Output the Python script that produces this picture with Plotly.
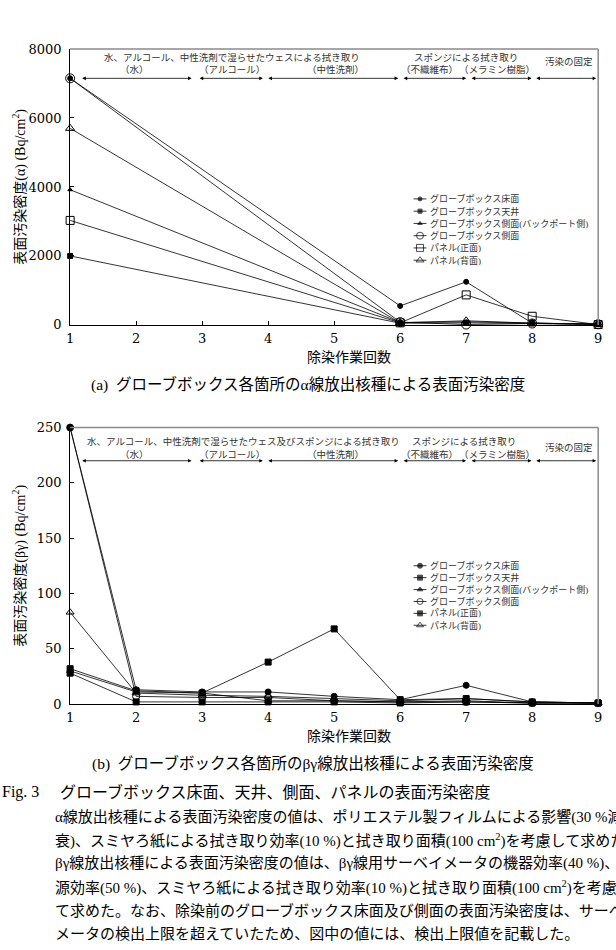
import plotly.graph_objects as go

W, H = 616, 950
SERIF = "Liberation Serif, Noto Sans CJK JP, serif"
TICKSERIF = "DejaVu Serif, Liberation Serif, serif"

# ---------------- data ----------------
series_names = [
    "グローブボックス床面",
    "グローブボックス天井",
    "グローブボックス側面(バックポート側)",
    "グローブボックス側面",
    "パネル(正面)",
    "パネル(背面)",
]

# (a) alpha
alpha_x = [1, 6, 7, 8, 9]
alpha_floor = [7150, 550, 1250, 50, 20]
alpha_ceiling = [2000, 50, 60, 40, 20]
alpha_side_bp = [3920, 70, 90, 60, 20]
alpha_side = [7150, 80, 10, 40, 20]
alpha_panel_front = [3030, 60, 870, 250, 10]
alpha_panel_back = [5700, 60, 120, 50, 20]

# (b) beta-gamma
bg_x = [1, 2, 3, 4, 5, 6, 7, 8, 9]
bg_floor = [250, 13, 11, 11, 7, 4, 17, 2, 1]
bg_ceiling = [32, 12, 10, 38, 68, 4, 5, 2, 1]
bg_side_bp = [30, 11, 10, 3, 3, 2, 3, 1, 1]
bg_side = [250, 7, 6, 6, 3, 2, 2, 1, 1]
bg_panel_front = [28, 2, 2, 2, 2, 1, 2, 1, 1]
bg_panel_back = [83, 10, 8, 7, 5, 3, 5, 2, 1]

x_ticks = [1, 2, 3, 4, 5, 6, 7, 8, 9]

# process labels
top_row1_a = [("水、アルコール、中性洗剤で湿らせたウェスによる拭き取り", 3.45),
              ("スポンジによる拭き取り", 6.99)]
top_row1_b = [("水、アルコール、中性洗剤で湿らせたウェス及びスポンジによる拭き取り", 3.62),
              ("スポンジによる拭き取り", 6.97)]
row2_labels = [("（水）", 1.97), ("（アルコール）", 3.45), ("（中性洗剤）", 5.02),
               ("（不織維布）", 6.44), ("（メラミン樹脂）", 7.46)]
fix_label = ("汚染の固定", 8.56)
arrow_spans = [(1.16, 2.84), (2.94, 3.92), (3.98, 5.97), (6.03, 7.0), (7.06, 7.99), (8.04, 8.97)]

alpha_series = [alpha_floor, alpha_ceiling, alpha_side_bp, alpha_side, alpha_panel_front, alpha_panel_back]
bg_series = [bg_floor, bg_ceiling, bg_side_bp, bg_side, bg_panel_front, bg_panel_back]

# ---------------- styles ----------------
sym_a = ["circle", "square", "triangle-up", "circle-open", "square-open", "triangle-up-open"]
size_a = [5, 5, 4, 9, 8, 8]
sym_b = ["circle", "square", "triangle-up", "circle-open", "square", "triangle-up-open"]
size_b = [6, 6, 6, 7, 6, 7]

L, R = 67, 602
T1, B1 = 42.7, 323
T2, B2 = 427.3, 708.3


def px(x):
    return x / W


def py(y):
    return 1 - y / H


fig = go.Figure()

for vals, s, sz, nm in zip(alpha_series, sym_a, size_a, series_names):
    fig.add_trace(go.Scatter(
        x=alpha_x, y=vals, mode="lines+markers", name=nm,
        line=dict(color="black", width=0.8),
        marker=dict(symbol=s, size=sz, color="black", line=dict(color="black", width=1)),
        xaxis="x", yaxis="y", cliponaxis=False, showlegend=False))

for vals, s, sz, nm in zip(bg_series, sym_b, size_b, series_names):
    fig.add_trace(go.Scatter(
        x=bg_x, y=vals, mode="lines+markers", name=nm,
        line=dict(color="black", width=0.8),
        marker=dict(symbol=s, size=sz, color="black", line=dict(color="black", width=1)),
        xaxis="x2", yaxis="y2", cliponaxis=False, showlegend=False))

# manual legends on a pixel overlay axis
leg_sizes_a = [4, 4, 4, 7, 7, 7]
leg_sizes_b = [5, 5, 5, 6, 5, 6]
annotations = []
for (y0, dy, syms, sizes) in [(195, 12.45, sym_a, leg_sizes_a), (567.7, 12.1, sym_b, leg_sizes_b)]:
    for i, (nm, s, sz) in enumerate(zip(series_names, syms, sizes)):
        yy = y0 + dy * i
        fig.add_trace(go.Scatter(
            x=[415, 421.5, 428], y=[yy, yy, yy], mode="lines+markers",
            line=dict(color="black", width=0.8),
            marker=dict(symbol=s, size=[0, sz, 0], color="black", line=dict(color="black", width=1)),
            xaxis="x3", yaxis="y3", showlegend=False, hoverinfo="skip", cliponaxis=False))
        annotations.append(dict(xref="paper", yref="paper", x=px(430), y=py(yy), text=nm,
                                showarrow=False, xanchor="left", yanchor="middle",
                                font=dict(family=SERIF, size=9, color="#333")))

ax_common = dict(showgrid=False, zeroline=False, showline=True, linecolor="black", linewidth=1,
                 ticks="inside", ticklen=4, tickcolor="black",
                 tickfont=dict(family=TICKSERIF, size=13, color="black"))

fig.update_layout(
    width=W, height=H, margin=dict(l=0, r=0, t=0, b=0), autosize=False,
    paper_bgcolor="white", plot_bgcolor="rgba(0,0,0,0)", showlegend=False,
    xaxis=dict(domain=[px(L), px(R)], range=[1, 9], tickvals=x_ticks, anchor="y",
               ticklabelstandoff=1, **ax_common),
    yaxis=dict(domain=[py(B1), py(T1)], range=[0, 8000], dtick=2000, anchor="x",
               ticklabelstandoff=5, **ax_common),
    xaxis2=dict(domain=[px(L), px(R)], range=[1, 9], tickvals=x_ticks, anchor="y2",
                ticklabelstandoff=1, **ax_common),
    yaxis2=dict(domain=[py(B2), py(T2)], range=[0, 250], dtick=50, anchor="x2",
                ticklabelstandoff=5, **ax_common),
    xaxis3=dict(domain=[0, 1], range=[0, W], visible=False, anchor="y3", fixedrange=True),
    yaxis3=dict(domain=[0, 1], range=[H, 0], visible=False, anchor="x3", fixedrange=True),
)

shapes = []
for xr, yr in [("x", "y"), ("x2", "y2")]:
    shapes.append(dict(type="line", xref=f"{xr} domain", yref=f"{yr} domain", x0=0, x1=1, y0=1, y1=1,
                       line=dict(color="#8a8a8a", width=1.5)))
    shapes.append(dict(type="line", xref=f"{xr} domain", yref=f"{yr} domain", x0=1, x1=1, y0=0, y1=1,
                       line=dict(color="#8a8a8a", width=1.5)))

JP = dict(family=SERIF, size=9.5, color="#333")


def process_labels(xr, yr, row1, y_r1, y_r2, y_fix, y_arr):
    for t, xc in row1:
        annotations.append(dict(xref=xr, yref=yr, x=xc, y=y_r1, text=t, showarrow=False,
                                xanchor="center", yanchor="middle", font=JP))
    for t, xc in row2_labels:
        annotations.append(dict(xref=xr, yref=yr, x=xc, y=y_r2, text=t, showarrow=False,
                                xanchor="center", yanchor="middle", font=JP))
    annotations.append(dict(xref=xr, yref=yr, x=fix_label[1], y=y_fix, text=fix_label[0], showarrow=False,
                            xanchor="center", yanchor="middle", font=JP))
    for a, b in arrow_spans:
        annotations.append(dict(xref=xr, yref=yr, axref=xr, ayref=yr, x=b, y=y_arr, ax=a, ay=y_arr,
                                text="", showarrow=True, arrowside="end+start", arrowhead=2,
                                arrowsize=0.9, arrowwidth=0.8, arrowcolor="black"))


process_labels("x", "y", top_row1_a, 7745, 7415, 7650, 7150)
process_labels("x2", "y2", top_row1_b, 237, 225.5, 232, 220)

TXT = dict(family=SERIF, size=14, color="black")
# axis titles
annotations += [
    dict(xref="paper", yref="paper", x=px(16), y=py((T1 + B1) / 2), text="表面汚染密度(α) (Bq/cm<sup>2</sup>)",
         textangle=-90, showarrow=False, xanchor="center", yanchor="middle", font=TXT),
    dict(xref="paper", yref="paper", x=px(16), y=py((T2 + B2) / 2), text="表面汚染密度(βγ) (Bq/cm<sup>2</sup>)",
         textangle=-90, showarrow=False, xanchor="center", yanchor="middle", font=TXT),
    dict(xref="paper", yref="paper", x=px(350), y=py(356), text="除染作業回数",
         showarrow=False, xanchor="center", yanchor="middle", font=TXT),
    dict(xref="paper", yref="paper", x=px(350), y=py(741), text="除染作業回数",
         showarrow=False, xanchor="center", yanchor="middle", font=TXT),
    dict(xref="paper", yref="paper", x=px(308), y=py(384),
         text="(a)  グローブボックス各箇所のα線放出核種による表面汚染密度",
         showarrow=False, xanchor="center", yanchor="middle", font=dict(family=SERIF, size=15.5, color="black")),
    dict(xref="paper", yref="paper", x=px(313), y=py(769),
         text="(b)  グローブボックス各箇所のβγ線放出核種による表面汚染密度",
         showarrow=False, xanchor="center", yanchor="middle", font=dict(family=SERIF, size=15.5, color="black")),
    dict(xref="paper", yref="paper", x=px(-4), y=py(798), text="Fig. 3",
         showarrow=False, xanchor="left", yanchor="middle", font=dict(family=SERIF, size=16, color="black")),
    dict(xref="paper", yref="paper", x=px(55), y=py(798), text="グローブボックス床面、天井、側面、パネルの表面汚染密度",
         showarrow=False, xanchor="left", yanchor="middle", font=dict(family=SERIF, size=16, color="black")),
]

body_lines = [
    "α線放出核種による表面汚染密度の値は、ポリエステル製フィルムによる影響(30 %減",
    "衰)、スミヤろ紙による拭き取り効率(10 %)と拭き取り面積(100 cm<sup>2</sup>)を考慮して求めた。",
    "βγ線放出核種による表面汚染密度の値は、βγ線用サーベイメータの機器効率(40 %)、線",
    "源効率(50 %)、スミヤろ紙による拭き取り効率(10 %)と拭き取り面積(100 cm<sup>2</sup>)を考慮し",
    "て求めた。なお、除染前のグローブボックス床面及び側面の表面汚染密度は、サーベイ",
    "メータの検出上限を超えていたため、図中の値には、検出上限値を記載した。",
]
for i, t in enumerate(body_lines):
    annotations.append(dict(xref="paper", yref="paper", x=px(50), y=py(823 + 23.8 * i), text=t,
                            showarrow=False, xanchor="left", yanchor="middle",
                            font=dict(family=SERIF, size=15, color="black")))

fig.update_layout(annotations=annotations, shapes=shapes)
fig.write_html("out.html")
